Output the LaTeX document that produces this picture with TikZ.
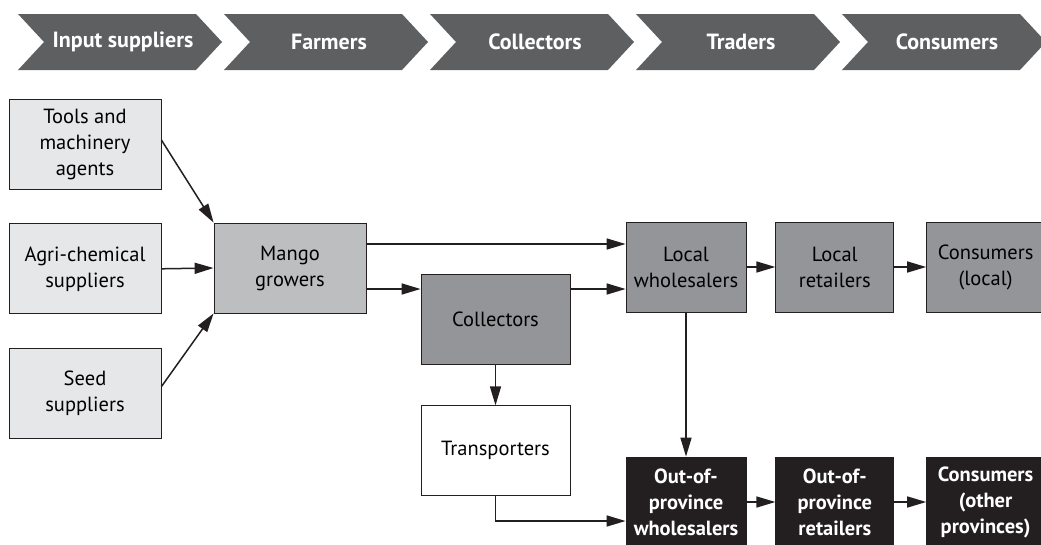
\documentclass[tikz,border=0pt]{standalone}
\usepackage{fontspec}
\setmainfont{PT Sans}
\usetikzlibrary{positioning,arrows.meta,calc}
\definecolor{ChevronGrey}{RGB}{94,95,97}
\definecolor{PaleBox}{RGB}{230,231,232}
\definecolor{GrowerBox}{RGB}{188,190,192}
\definecolor{TradeBox}{RGB}{147,149,152}
\definecolor{NightBox}{RGB}{35,31,32}
\newcommand\boxfont{\fontsize{20.5}{26}\selectfont}
\tikzset{
  flow/.style={-{Triangle[length=19pt,width=11pt]},line width=1.5pt,draw=NightBox},
  basebox/.style={draw=NightBox,line width=0.8pt,minimum height=90pt,
    align=center,font=\boxfont,inner sep=2pt},
  palebox/.style={basebox,fill=PaleBox,minimum width=152pt},
  growerbox/.style={basebox,fill=GrowerBox,minimum width=152pt},
  tradebox/.style={basebox,fill=TradeBox,minimum width=120pt},
  whitebox/.style={basebox,fill=white,minimum width=149pt},
  nightbox/.style={basebox,fill=NightBox,text=white,minimum width=120pt,
    font=\boxfont\bfseries},
  stagelabel/.style={text=white,font=\fontsize{22}{24}\selectfont\bfseries,inner sep=0pt}
}
\begin{document}
\begin{tikzpicture}[x=1pt,y=-1pt,node distance=30pt]
  \useasboundingbox (0,0) rectangle (1041,544);
  \clip (0,0) rectangle (1041,544);
  % stage chevrons
  \foreach \lab [count=\i from 0] in {Input suppliers,Farmers,Collectors,Traders,Consumers} {
    \pgfmathsetmacro\L{18+206*\i}
    \fill[ChevronGrey] (\L,14) -- ++(178,0) -- ++(26,28) -- ++(-26,28)
      -- ++(-178,0) -- ++(26,-28) -- cycle;
    \node[stagelabel] (stage\i) at (\L+105,42) {\lab};
  }
  % input suppliers
  \node[palebox] (tools) at (85,144) {Tools and\\machinery\\agents};
  \node[palebox,below=34pt of tools] (agri) {Agri-chemical\\suppliers};
  \node[palebox,below=34pt of agri] (seed) {Seed\\suppliers};
  \node[growerbox] (mango) at (290,268) {Mango\\growers};
  % collectors and transport
  \node[tradebox,minimum width=149pt] (coll) at (495.5,319) {Collectors};
  \node[whitebox,below=41pt of coll] (trans) {Transporters};
  % local chain
  \node[tradebox] (lwhole) at (686,267) {Local\\wholesalers};
  \node[tradebox,minimum width=118pt,right=29pt of lwhole] (lretail) {Local\\retailers};
  \node[tradebox,minimum width=118pt,right=32pt of lretail] (lcons) {Consumers\\(local)};
  % out-of-province chain
  \node[nightbox] (owhole) at (686,502) {Out-of-\\province\\wholesalers};
  \node[nightbox,minimum width=118pt,right=29pt of owhole] (oretail) {Out-of-\\province\\retailers};
  \node[nightbox,minimum width=118pt,right=32pt of oretail] (ocons) {Consumers\\(other\\provinces)};
  % connectors
  \draw[flow] ([yshift=4pt]tools.east) -- (mango.north west);
  \draw[flow] (agri.east) -- (mango.west);
  \draw[flow] ([yshift=7pt]seed.east) -- (mango.south west);
  \draw[flow] ([yshift=24pt]mango.east) -- ([yshift=24pt]mango.east -| lwhole.west);
  \draw[flow] ([yshift=-21pt]mango.east) -- ([yshift=-21pt]mango.east -| coll.west);
  \draw[flow] ([yshift=-21pt]mango.east -| coll.east) -- ([yshift=-21pt]mango.east -| lwhole.west);
  \draw[flow] (coll.south) -- (trans.north);
  \draw[flow] (lwhole) -- (lretail);
  \draw[flow] (lretail) -- (lcons);
  \draw[flow] (lwhole.south) -- (owhole.north);
  \draw[flow] (trans.south) |- ([yshift=-19pt]owhole.west);
  \draw[flow] (owhole) -- (oretail);
  \draw[flow] (oretail) -- (ocons);
\end{tikzpicture}
\end{document}
